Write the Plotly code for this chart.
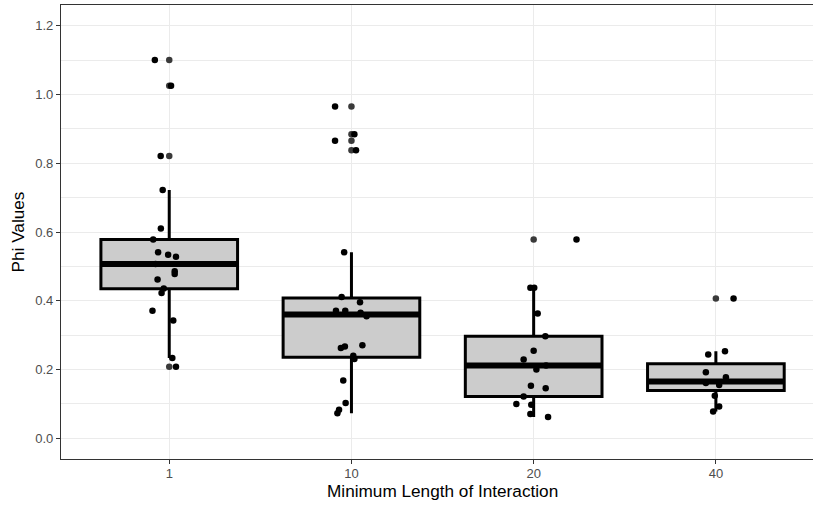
import plotly.graph_objects as go

# ---- data ----
categories = ["1", "10", "20", "40"]

q1 = [0.435, 0.236, 0.122, 0.139]
median = [0.507, 0.360, 0.212, 0.165]
q3 = [0.578, 0.408, 0.297, 0.217]
lower_whisker = [0.234, 0.073, 0.062, 0.078]
upper_whisker = [0.722, 0.541, 0.438, 0.253]

outliers_1 = [1.100, 1.025, 0.821, 0.208]
outliers_10 = [0.965, 0.884, 0.865, 0.838]
outliers_20 = [0.578]
outliers_40 = [0.407]

values_1 = [1.100, 1.025, 0.821, 0.722, 0.610, 0.578, 0.541, 0.534, 0.528, 0.507,
            0.486, 0.478, 0.462, 0.436, 0.423, 0.371, 0.343, 0.234, 0.208]
jitter_1 = [-0.079, 0.010, -0.047, -0.036, -0.046, -0.088, -0.061, -0.006, 0.037, -0.075,
            0.030, 0.030, -0.064, -0.030, -0.042, -0.092, 0.022, 0.017, 0.037]

values_10 = [0.965, 0.884, 0.865, 0.838, 0.541, 0.411, 0.396, 0.371, 0.371, 0.365,
             0.355, 0.271, 0.267, 0.263, 0.240, 0.231, 0.168, 0.103, 0.083, 0.073]
jitter_10 = [-0.090, 0.016, -0.090, 0.025, -0.040, -0.054, 0.047, -0.085, -0.034, 0.050,
             0.083, 0.060, -0.036, -0.058, 0.010, 0.016, -0.045, -0.032, -0.068, -0.077]

values_20 = [0.578, 0.438, 0.438, 0.363, 0.297, 0.255, 0.229, 0.212, 0.200, 0.153,
             0.146, 0.122, 0.100, 0.098, 0.071, 0.062]
jitter_20 = [0.235, -0.018, 0.003, 0.022, 0.064, 0.000, -0.055, 0.068, 0.015, -0.015,
             0.066, -0.055, -0.095, -0.013, -0.018, 0.079]

values_40 = [0.407, 0.253, 0.244, 0.192, 0.178, 0.161, 0.155, 0.124, 0.093, 0.078]
jitter_40 = [0.097, 0.050, -0.042, -0.055, 0.055, -0.055, 0.018, -0.006, 0.018, -0.015]

y_ticks = [0.0, 0.2, 0.4, 0.6, 0.8, 1.0, 1.2]
y_minor = [0.1, 0.3, 0.5, 0.7, 0.9, 1.1]

x_title = "Minimum Length of Interaction"
y_title = "Phi Values"

# ---- build ----
positions = list(range(1, len(categories) + 1))
box_width = 0.75
FONT = "Liberation Sans, Arial, Helvetica, sans-serif"

fig = go.Figure()

fig.add_trace(go.Box(
    x=positions, q1=q1, median=median, q3=q3,
    lowerfence=lower_whisker, upperfence=upper_whisker,
    width=box_width, whiskerwidth=0, boxpoints=False,
    fillcolor="#CCCCCC", line=dict(color="black", width=3),
    showlegend=False, hoverinfo="skip",
))

# fattened median line
mx, my = [], []
for p, m in zip(positions, median):
    mx += [p - box_width / 2, p + box_width / 2, None]
    my += [m, m, None]
fig.add_trace(go.Scatter(x=mx, y=my, mode="lines",
                         line=dict(color="black", width=6),
                         showlegend=False, hoverinfo="skip"))

outliers = [outliers_1, outliers_10, outliers_20, outliers_40]
ox, oy = [], []
for p, vals in zip(positions, outliers):
    ox += [p] * len(vals)
    oy += vals
fig.add_trace(go.Scatter(x=ox, y=oy, mode="markers",
                         marker=dict(color="#3a3a3a", size=6.5, line=dict(width=0)),
                         showlegend=False))

groups = [(values_1, jitter_1), (values_10, jitter_10),
          (values_20, jitter_20), (values_40, jitter_40)]
jx, jy = [], []
for p, (vals, jit) in zip(positions, groups):
    jx += [p + j for j in jit]
    jy += vals
fig.add_trace(go.Scatter(x=jx, y=jy, mode="markers",
                         marker=dict(color="black", size=6.5, line=dict(width=0)),
                         showlegend=False))

axis_common = dict(
    showline=True, linecolor="#333333", linewidth=1.1,
    ticks="outside", ticklen=4, tickwidth=1.1, tickcolor="#333333",
    tickfont=dict(family=FONT, size=13, color="#4D4D4D"),
    zeroline=False, showgrid=True, gridcolor="#EBEBEB", gridwidth=1.1,
    automargin=False,
)

# the panel spans the discrete range [0.4, 4.6]; its right part is cut by the frame
panel_center = (positions[0] - 0.6 + positions[-1] + 0.6) / 2

fig.update_layout(
    width=813, height=506,
    margin=dict(l=61, r=0, t=5, b=47),
    paper_bgcolor="white", plot_bgcolor="white",
    font=dict(family=FONT, color="black"),
    showlegend=False,
    xaxis=dict(
        range=[0.406, 4.533], tickmode="array", tickvals=positions, ticktext=categories,
        mirror=True, ticklabelstandoff=-2,
        **axis_common,
    ),
    yaxis=dict(
        range=[-0.06, 1.26], tickmode="array", tickvals=y_ticks,
        ticktext=[f"{v:.1f}" for v in y_ticks],
        mirror=False,
        minor=dict(tickmode="array", tickvals=y_minor, showgrid=True,
                   gridcolor="#EBEBEB", gridwidth=0.55, ticks=""),
        title=dict(text=y_title, font=dict(size=17.2, color="black"), standoff=6),
        **axis_common,
    ),
    annotations=[dict(
        text=x_title, xref="x", yref="paper", x=panel_center, y=0,
        xanchor="center", yanchor="middle", yshift=-32, showarrow=False,
        font=dict(family=FONT, size=17.2, color="black"),
    )],
)

fig.write_html("out.html")
